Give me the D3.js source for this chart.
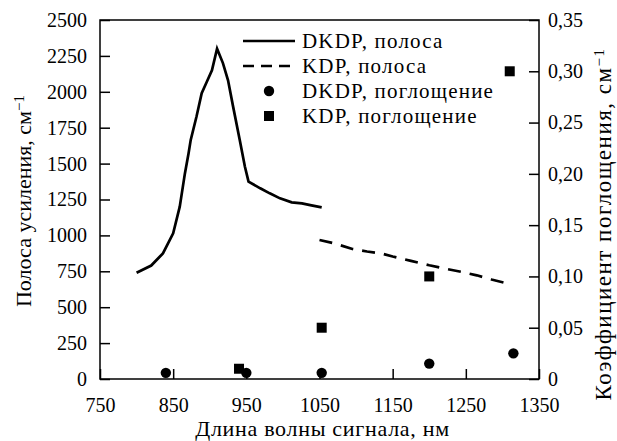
<!DOCTYPE html>
<html lang="ru">
<head>
  <meta charset="UTF-8">
  <title>Полоса усиления и поглощение DKDP / KDP</title>
  <style>
      body { margin: 0; background: #fff; }
      .axis path { display: none; }
      .axis line { stroke: #000; stroke-width: 1.5px; }
      .band { fill: none; stroke: #000; stroke-width: 2.7px; }
  </style>
</head>
<body>
<div id="chart"></div>
<script src="https://d3js.org/d3.v7.min.js"></script>
<script>
  // DKDP band (left axis)
  const dkdpWl   = [800, 820, 836, 850, 859, 866, 871, 874, 882, 889, 896, 903, 910, 918, 925, 932, 941, 948, 953, 969, 982, 996, 1012, 1026, 1039, 1053];
  const dkdpBand = [740, 790, 875, 1015, 1200, 1430, 1570, 1665, 1830, 1990, 2070, 2150, 2300, 2200, 2080, 1895, 1665, 1480, 1375, 1328, 1293, 1258, 1230, 1223, 1209, 1195];

  // KDP band (left axis)
  const kdpWl   = [1050, 1070, 1095, 1115, 1135, 1150, 1175, 1200, 1220, 1245, 1265, 1285, 1310];
  const kdpBand = [968, 945, 905, 888, 874, 853, 823, 792, 770, 745, 722, 693, 661];

  // absorption (right axis)
  const dkdpAbsWl = [840, 950, 1053, 1200, 1315];
  const dkdpAbs   = [0.006, 0.006, 0.006, 0.015, 0.025];
  const kdpAbsWl  = [940, 1053, 1200, 1310];
  const kdpAbs    = [0.01, 0.05, 0.10, 0.30];

  const xTicks = [750, 850, 950, 1050, 1150, 1250, 1350];
  const yTicks = [0, 250, 500, 750, 1000, 1250, 1500, 1750, 2000, 2250, 2500];
  const y2Ticks = [0, 0.05, 0.10, 0.15, 0.20, 0.25, 0.30, 0.35];

  const legendLabels = ["DKDP, полоса", "KDP, полоса", "DKDP, поглощение", "KDP, поглощение"];

  const serif = "'Liberation Serif', 'Times New Roman', serif";

  const margin = {top: 20, right: 78, bottom: 62, left: 100},
    width = 617 - margin.left - margin.right,
    height = 441 - margin.top - margin.bottom;

  const svgRoot = d3.select("#chart").append("svg")
    .attr("width", 617)
    .attr("height", 441);

  const svg = svgRoot.append("g")
    .attr("transform", `translate(${margin.left},${margin.top})`);

  const x = d3.scaleLinear().domain([750, 1350]).range([0, width]);
  const y = d3.scaleLinear().domain([0, 2500]).range([height, 0]);
  const y2 = d3.scaleLinear().domain([0, 0.35]).range([height, 0]);

  const comma = d => d === 0 ? "0" : d3.format(".2f")(d).replace(".", ",");

  function styleAxis(g) {
    g.selectAll("text")
      .style("font-family", serif)
      .style("font-size", "20px")
      .attr("fill", "#000");
  }

  svg.append("g")
    .attr("class", "axis")
    .attr("transform", `translate(0,${height})`)
    .call(d3.axisBottom(x).tickValues(xTicks).tickSize(-10).tickSizeOuter(0).tickPadding(19).tickFormat(d3.format("d")))
    .call(styleAxis);

  svg.append("g")
    .attr("class", "axis")
    .call(d3.axisLeft(y).tickValues(yTicks).tickSize(-10).tickSizeOuter(0).tickPadding(13).tickFormat(d3.format("d")))
    .call(styleAxis);

  svg.append("g")
    .attr("class", "axis")
    .attr("transform", `translate(${width},0)`)
    .call(d3.axisRight(y2).tickValues(y2Ticks).tickSize(-10).tickSizeOuter(0).tickPadding(9).tickFormat(comma))
    .call(styleAxis);

  // frame
  svg.append("rect")
    .attr("width", width)
    .attr("height", height)
    .attr("fill", "none")
    .attr("stroke", "#000")
    .attr("stroke-width", 1.5);

  const line = d3.line()
    .x(d => x(d[0]))
    .y(d => y(d[1]));

  svg.append("path")
    .datum(d3.zip(dkdpWl, dkdpBand))
    .attr("class", "band")
    .attr("d", line);

  svg.append("path")
    .datum(d3.zip(kdpWl, kdpBand))
    .attr("class", "band")
    .attr("stroke-dasharray", "13,9")
    .attr("d", line);

  svg.selectAll(".dot")
    .data(d3.zip(dkdpAbsWl, dkdpAbs))
    .enter().append("circle")
    .attr("class", "dot")
    .attr("cx", d => x(d[0]))
    .attr("cy", d => y2(d[1]))
    .attr("r", 5.2)
    .attr("fill", "#000");

  svg.selectAll(".sq")
    .data(d3.zip(kdpAbsWl, kdpAbs))
    .enter().append("rect")
    .attr("class", "sq")
    .attr("x", d => x(d[0]) - 5)
    .attr("y", d => y2(d[1]) - 5)
    .attr("width", 10)
    .attr("height", 10)
    .attr("fill", "#000");

  // legend
  const legend = svg.append("g").attr("transform", "translate(143,28)");
  legendLabels.forEach((t, i) => {
    const g = legend.append("g").attr("transform", `translate(0,${i * 25})`);
    if (i === 0 || i === 1) {
      g.append("line")
        .attr("x1", 0).attr("x2", 52).attr("y1", -7).attr("y2", -7)
        .attr("stroke", "#000").attr("stroke-width", 2.7)
        .attr("stroke-dasharray", i === 1 ? "11,7" : null);
    } else if (i === 2) {
      g.append("circle").attr("cx", 26).attr("cy", -7).attr("r", 5.2).attr("fill", "#000");
    } else {
      g.append("rect").attr("x", 21).attr("y", -12).attr("width", 10).attr("height", 10).attr("fill", "#000");
    }
    g.append("text")
      .attr("x", 59)
      .style("font-family", serif)
      .style("font-size", "21px")
      .style("letter-spacing", "1.2px")
      .text(t);
  });

  // axis titles
  svgRoot.append("text")
    .attr("x", margin.left + width / 2 + 3)
    .attr("y", 436)
    .attr("text-anchor", "middle")
    .style("font-family", serif)
    .style("font-size", "22px")
    .style("letter-spacing", "0.7px")
    .text("Длина волны сигнала, нм");

  const leftTitle = svgRoot.append("text")
    .attr("transform", "translate(31,201) rotate(-90)")
    .attr("text-anchor", "middle")
    .style("font-family", serif)
    .style("font-size", "22px");
  leftTitle.append("tspan").text("Полоса усиления, см");
  leftTitle.append("tspan").attr("dy", "-0.5em").style("font-size", "15px").text("−1");

  const rightTitle = svgRoot.append("text")
    .attr("transform", "translate(611,224) rotate(-90)")
    .attr("text-anchor", "middle")
    .style("font-family", serif)
    .style("font-size", "23px")
    .style("letter-spacing", "1.5px");
  rightTitle.append("tspan").text("Коэффициент поглощения, см");
  rightTitle.append("tspan").attr("dy", "-0.5em").style("font-size", "15px").text("−1");
</script>
</body>
</html>
